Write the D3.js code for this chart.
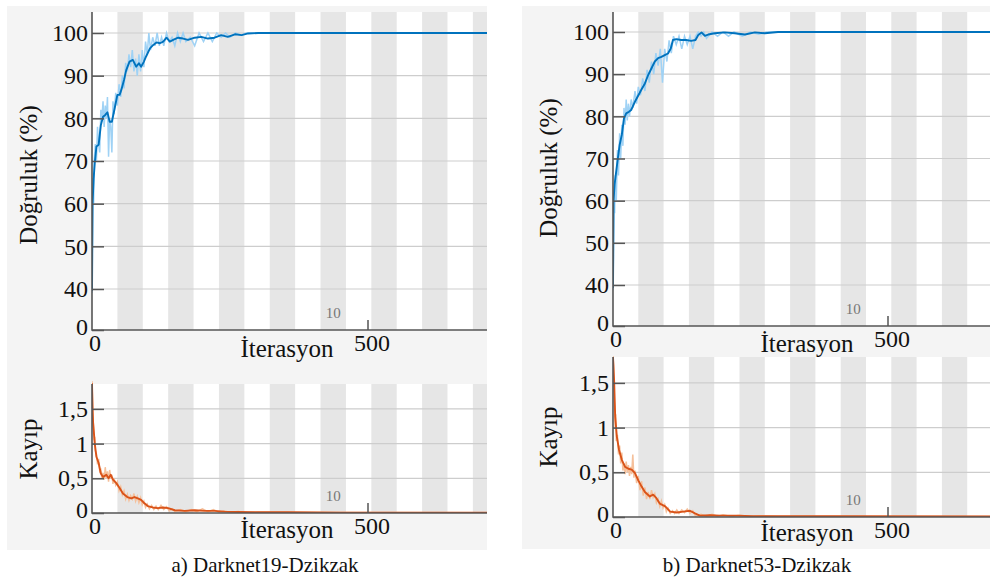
<!DOCTYPE html>
<html>
<head>
<meta charset="utf-8">
<script src="https://cdn.jsdelivr.net/npm/d3@7"></script>
<style>
  body { margin: 0; background: #fff; }
  svg { display: block; }
  text { font-family: "Liberation Serif", "Times New Roman", serif; fill: #111; }
</style>
</head>
<body>
<svg width="990" height="583"></svg>
<script>
// tick values and labels
var accTicks = [0, 40, 50, 60, 70, 80, 90, 100];
var lossTicks = [0, 0.5, 1, 1.5];
var lossTickLabels = ["0", "0,5", "1", "1,5"];
var iterTicks = [0, 500];
var epochLen = 46;      // iterations per epoch (shaded bands)
var epochMark = 10;     // epoch number printed on the plot
var titles = ["a) Darknet19-Dzikzak", "b) Darknet53-Dzikzak"];

// Darknet19 accuracy, smoothed  [iteration, %]
var acc19 = [[0,38],[1,60],[2,63],[3,66],[5,69.5],[8,73.4],[12,73.8],[16,78.4],[20,80.4],[24,80.8],[28,81.4],[32,79.2],[36,79.2],[41,82.3],[46,85.5],[50,85.5],[53,86.6],[58,89],[62,91.3],[68,93.3],[74,93.7],[80,92.1],[85,92.9],[89,92.1],[94,93.3],[98,94.5],[105,96.4],[111,97.2],[117,97.8],[123,97.6],[129,98],[135,98.9],[141,98],[147,98.4],[156,98.9],[165,98.7],[174,98.4],[186,98.9],[198,99.1],[210,98.7],[222,98.9],[234,99.5],[246,99.1],[259,99.7],[271,99.5],[283,99.9],[301,100],[400,100],[500,100],[600,100],[720,100]];
// Darknet19 accuracy, raw
var acc19raw = [[0,36],[1,55],[2,66],[3,60],[4,70],[6,74],[8,70],[10,78],[12,74],[14,72],[16,82],[18,80],[20,84],[22,78],[24,83],[26,80],[28,85],[30,71],[32,80],[34,78],[36,72],[38,84],[40,81],[43,86],[46,83],[49,88],[52,85],[55,90],[58,87],[61,93],[64,91],[67,95],[70,92],[73,96],[76,91],[79,94],[82,90],[85,95],[88,91],[91,96],[94,92],[97,98],[100,95],[103,100],[106,96],[110,99],[114,97],[118,100],[122,97],[126,99],[130,97],[135,100],[140,98],[145,99],[150,97],[155,100],[160,98],[165,100],[170,98],[178,99],[186,97],[194,100],[202,98],[210,100],[218,98],[226,100],[234,99],[242,100],[250,99],[260,100],[270,99.5],[280,100],[300,100],[720,100]];
// Darknet53 accuracy, smoothed
var acc53 = [[0,37],[1,60],[3,64],[8,69.2],[12,73.2],[16,75.6],[20,79.5],[24,80.7],[29,81.1],[33,81.5],[40,83.5],[45,84.7],[51,86.2],[58,87.8],[64,89.8],[70,91.4],[76,93],[82,93.8],[88,94.1],[94,94.5],[100,94.9],[105,96.1],[109,98.1],[115,98.3],[124,98.1],[133,98.1],[142,97.9],[150,98.1],[155,99.3],[161,99.9],[167,99.1],[173,99.4],[185,99.7],[203,99.9],[221,99.7],[240,99.4],[258,99.9],[276,99.7],[300,100],[400,100],[500,100],[700,100]];
// Darknet53 accuracy, raw
var acc53raw = [[0,35],[1,50],[2,62],[3,57],[4,66],[6,60],[8,72],[10,66],[12,76],[14,70],[16,78],[18,73],[20,82],[22,78],[24,84],[26,79],[28,83],[30,80],[33,84],[36,82],[40,86],[43,83],[46,87],[50,85],[54,89],[58,86],[62,91],[66,88],[70,93],[74,90],[78,95],[82,92],[86,96],[90,88],[94,96],[98,93],[102,98],[106,95],[110,99],[115,97],[120,99],[125,96],[130,99],[135,97],[140,99],[145,96],[150,99],[155,100],[160,99],[165,100],[170,98.5],[180,100],[190,99],[200,100],[210,99],[220,100],[235,99],[250,100],[265,99.5],[280,100],[300,100],[700,100]];

// Darknet19 loss, smoothed  [iteration, loss]
var loss19 = [[0,1.87],[1,1.5],[2,1.3],[5,1.0],[8,0.81],[12,0.72],[16,0.57],[20,0.52],[26,0.55],[30,0.5],[34,0.55],[38,0.48],[44,0.43],[50,0.36],[56,0.28],[64,0.23],[71,0.21],[77,0.23],[83,0.21],[89,0.19],[95,0.14],[101,0.1],[110,0.08],[119,0.07],[129,0.08],[138,0.07],[150,0.04],[168,0.03],[186,0.04],[204,0.03],[222,0.03],[240,0.02],[264,0.015],[295,0.01],[355,0.01],[450,0.005],[720,0.005]];
var loss19raw = [[0,1.9],[1,1.6],[2,1.35],[3,1.2],[4,1.05],[5,1.1],[6,0.9],[8,0.85],[10,0.7],[12,0.78],[14,0.6],[16,0.62],[18,0.5],[20,0.58],[22,0.48],[24,0.66],[26,0.5],[28,0.6],[30,0.45],[32,0.62],[34,0.5],[36,0.55],[38,0.42],[40,0.5],[43,0.4],[46,0.45],[49,0.32],[52,0.38],[55,0.26],[58,0.32],[61,0.2],[64,0.27],[67,0.18],[70,0.25],[73,0.2],[76,0.28],[79,0.17],[82,0.24],[85,0.15],[88,0.22],[91,0.12],[94,0.17],[97,0.08],[100,0.13],[104,0.06],[108,0.11],[112,0.05],[116,0.1],[120,0.05],[125,0.11],[130,0.05],[135,0.09],[140,0.03],[145,0.06],[150,0.02],[160,0.05],[170,0.02],[180,0.05],[190,0.02],[200,0.06],[210,0.02],[220,0.05],[230,0.01],[240,0.03],[250,0.01],[265,0.02],[280,0.005],[300,0.01],[720,0.005]];
// Darknet53 loss
var loss53 = [[0,1.79],[2,1.53],[4,1.12],[7,0.9],[11,0.75],[16,0.64],[22,0.56],[28,0.54],[34,0.53],[40,0.49],[46,0.41],[52,0.34],[58,0.28],[67,0.23],[73,0.25],[79,0.21],[85,0.15],[95,0.12],[104,0.06],[116,0.05],[128,0.06],[140,0.07],[149,0.04],[158,0.015],[176,0.02],[195,0.015],[225,0.015],[255,0.01],[285,0.01],[400,0.008],[700,0.005]];
var loss53raw = [[0,1.8],[1,1.7],[2,1.4],[3,1.2],[4,1.0],[5,1.15],[6,0.85],[8,0.92],[10,0.7],[12,0.8],[14,0.6],[16,0.72],[18,0.52],[20,0.6],[22,0.48],[24,0.62],[26,0.5],[28,0.58],[30,0.46],[32,0.56],[34,0.48],[36,0.7],[38,0.44],[40,0.52],[43,0.38],[46,0.46],[49,0.3],[52,0.4],[55,0.24],[58,0.33],[61,0.2],[64,0.28],[67,0.2],[70,0.3],[73,0.22],[76,0.26],[79,0.16],[82,0.2],[85,0.12],[88,0.18],[91,0.1],[94,0.14],[97,0.06],[100,0.1],[104,0.04],[108,0.07],[112,0.04],[116,0.08],[120,0.04],[125,0.08],[130,0.05],[135,0.09],[140,0.04],[145,0.07],[150,0.01],[160,0.03],[170,0.01],[180,0.03],[190,0.01],[200,0.025],[215,0.005],[230,0.02],[250,0.005],[270,0.015],[300,0.005],[700,0.005]];

// colours
var blue = "#0072bd", blueLight = "#9fd2f5";
var orange = "#d95319", orangeLight = "#f5c09b";

// layout of the two panels
var panels = [
  { bg: [7, 6, 480, 544], x0: 92, x500: 368, x1: 487, title: [265, 572],
    acc: { y0: 12, y1: 330, yr: [330, 289, 33], ylab: [37, 175], xlab: [287, 357], s: acc19, r: acc19raw },
    loss: { y0: 384, y1: 513, yr: [513, 478.3], ylab: [37, 449], xlab: [287, 538], s: loss19, r: loss19raw } },
  { bg: [522, 6, 468, 543], x0: 613, x500: 888, x1: 990, title: [757, 572],
    acc: { y0: 12, y1: 326, yr: [326, 285, 32], ylab: [557, 168], xlab: [807, 352], s: acc53, r: acc53raw },
    loss: { y0: 357, y1: 517, yr: [517, 472.3], ylab: [557, 437], xlab: [807, 541], s: loss53, r: loss53raw } }
];

var svg = d3.select("svg");

panels.forEach(function(p, pi) {
  svg.append("rect")
    .attr("x", p.bg[0]).attr("y", p.bg[1])
    .attr("width", p.bg[2]).attr("height", p.bg[3])
    .attr("fill", "#f4f4f4");

  var x = d3.scaleLinear().domain([0, 500]).range([p.x0, p.x500]);

  ["acc", "loss"].forEach(function(kind) {
    var c = p[kind];
    var y = kind === "acc"
      ? d3.scaleLinear().domain([0, 40, 100]).range(c.yr)
      : d3.scaleLinear().domain([0, 0.5]).range(c.yr);
    var ticks = kind === "acc" ? accTicks : lossTicks;
    var g = svg.append("g");
    var clipId = "clip" + pi + kind;

    svg.append("clipPath").attr("id", clipId)
      .append("rect")
      .attr("x", p.x0).attr("y", c.y0 - 3)
      .attr("width", p.x1 - p.x0).attr("height", c.y1 - c.y0 + 3);

    // plot area + epoch bands
    g.append("rect")
      .attr("x", p.x0).attr("y", c.y0)
      .attr("width", p.x1 - p.x0).attr("height", c.y1 - c.y0)
      .attr("fill", "#fff");

    var maxIt = x.invert(p.x1);
    var bands = d3.range(1, Math.ceil(maxIt / epochLen), 2);
    g.append("g").attr("clip-path", "url(#" + clipId + ")")
      .selectAll("rect").data(bands).enter().append("rect")
      .attr("x", function(d) { return x(d * epochLen); })
      .attr("y", c.y0)
      .attr("width", function(d) { return x((d + 1) * epochLen) - x(d * epochLen); })
      .attr("height", c.y1 - c.y0)
      .attr("fill", "#e6e6e6");

    // horizontal grid
    g.selectAll("line.grid").data(ticks.slice(1)).enter().append("line")
      .attr("class", "grid")
      .attr("x1", p.x0).attr("x2", p.x1)
      .attr("y1", function(d) { return y(d); })
      .attr("y2", function(d) { return y(d); })
      .attr("stroke", "#cdcdcd").attr("stroke-width", 1.2);

    // epoch number
    g.append("text")
      .attr("x", x((epochMark - 0.5) * epochLen))
      .attr("y", c.y1 - 12)
      .attr("text-anchor", "middle")
      .style("font-size", "15px")
      .style("fill", "#777")
      .text(epochMark);

    // lines: raw (light) under smoothed
    var line = d3.line()
      .x(function(d) { return x(d[0]); })
      .y(function(d) { return y(d[1]); });
    var lg = g.append("g").attr("clip-path", "url(#" + clipId + ")");
    lg.append("path").datum(c.r)
      .attr("d", line).attr("fill", "none")
      .attr("stroke", kind === "acc" ? blueLight : orangeLight)
      .attr("stroke-width", 1.5);
    lg.append("path").datum(c.s)
      .attr("d", line).attr("fill", "none")
      .attr("stroke", kind === "acc" ? blue : orange)
      .attr("stroke-width", 1.9).attr("stroke-linejoin", "round");

    // y axis
    var yAxis = d3.axisLeft(y)
      .tickValues(ticks)
      .tickSize(-12)
      .tickPadding(4)
      .tickFormat(function(d, i) { return kind === "acc" ? d : lossTickLabels[i]; });
    var ya = g.append("g").attr("transform", "translate(" + p.x0 + ",0)").call(yAxis);
    ya.select(".domain").remove();
    ya.selectAll(".tick line").attr("stroke", "#555").attr("stroke-width", 1.5);
    ya.selectAll(".tick text")
      .style("font-size", "24px")
      .style("font-family", "'Liberation Serif', 'Times New Roman', serif")
      .attr("fill", "#111")
      .attr("dy", function(d) { return d === 0 ? "0.2em" : "0.32em"; });

    // x axis ticks (inward)
    g.selectAll("line.xt").data(iterTicks.slice(1)).enter().append("line")
      .attr("x1", function(d) { return x(d); }).attr("x2", function(d) { return x(d); })
      .attr("y1", c.y1).attr("y2", c.y1 - 10)
      .attr("stroke", "#555").attr("stroke-width", 1.5);
    g.selectAll("text.xt").data(iterTicks).enter().append("text")
      .attr("x", function(d) { return x(d) + (d === 0 ? 3 : 4); })
      .attr("y", c.y1 + 21)
      .attr("text-anchor", "middle")
      .style("font-size", "24px")
      .text(function(d) { return d; });

    // axis lines
    g.append("path")
      .attr("d", "M" + p.x0 + "," + c.y0 + "V" + c.y1 + "H" + p.x1)
      .attr("fill", "none").attr("stroke", "#555").attr("stroke-width", 1.6);

    // axis labels
    g.append("text")
      .attr("transform", "translate(" + c.ylab[0] + "," + c.ylab[1] + ") rotate(-90)")
      .attr("text-anchor", "middle")
      .style("font-size", "25px")
      .text(kind === "acc" ? "Doğruluk (%)" : "Kayıp");
    g.append("text")
      .attr("x", c.xlab[0]).attr("y", c.xlab[1])
      .attr("text-anchor", "middle")
      .style("font-size", "25px")
      .text("İterasyon");
  });

  svg.append("text")
    .attr("x", p.title[0]).attr("y", p.title[1])
    .attr("text-anchor", "middle")
    .style("font-size", "21px")
    .text(titles[pi]);
});
</script>
</body>
</html>
